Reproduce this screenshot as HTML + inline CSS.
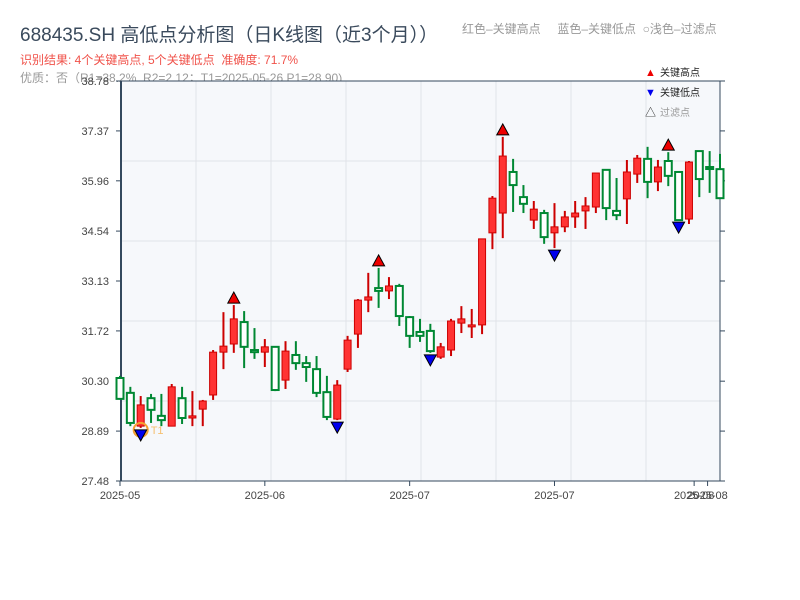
<!DOCTYPE html>
<html><head><meta charset="utf-8"><style>
body{margin:0;background:#fff;width:800px;height:600px;overflow:hidden;font-family:"Liberation Sans","Noto Sans CJK SC",sans-serif}
.t{position:absolute;white-space:nowrap}
</style></head><body>
<div class="t" style="left:20px;top:20px;font-size:19px;color:#3a4a5c">688435.SH 高低点分析图（日K线图（近3个月））</div>
<div class="t" style="left:462px;top:20px;font-size:12px;color:#999">红色–关键高点&nbsp;&nbsp;&nbsp;&nbsp;&nbsp;蓝色–关键低点&nbsp;&nbsp;○浅色–过滤点</div>
<div class="t" style="left:20px;top:51px;font-size:12px;color:#f0524a">识别结果: 4个关键高点, 5个关键低点&nbsp;&nbsp;准确度: 71.7%</div>
<div class="t" style="left:20px;top:69px;font-size:12px;color:#999">优质：否（R1=38.2%, R2=2.12；T1=2025-05-26 P1=28.90)</div>
<svg id="chart" width="800" height="600" style="position:absolute;left:0;top:0;font-family:'Liberation Sans','Noto Sans CJK SC',sans-serif"></svg>
<script>
const opens=[30.39,29.97,29.03,29.82,29.32,29.03,29.82,29.26,29.51,29.91,31.12,31.35,31.97,31.18,31.12,31.27,30.33,31.04,30.81,30.64,29.99,29.23,30.64,31.63,32.59,32.93,32.85,32.99,32.11,31.69,31.72,30.98,31.18,31.94,31.86,31.89,34.49,35.05,36.21,35.50,34.85,35.05,34.49,34.66,34.94,35.11,35.22,36.27,35.11,35.45,36.15,36.58,35.93,36.52,36.21,34.88,36.80,36.35,36.29];
const closes=[29.80,29.12,29.63,29.49,29.20,30.14,29.26,29.32,29.74,31.12,31.29,32.06,31.27,31.12,31.27,30.05,31.15,30.81,30.70,29.97,29.29,30.19,31.46,32.59,32.68,32.85,32.99,32.14,31.58,31.58,31.15,31.27,32.00,32.06,31.89,34.32,35.47,36.66,35.84,35.31,35.16,34.37,34.66,34.94,35.05,35.25,36.18,35.19,34.99,36.21,36.60,35.93,36.35,36.10,34.85,36.49,36.01,36.32,35.47];
const highs=[30.45,30.14,29.88,29.94,29.94,30.22,30.14,30.02,29.77,31.18,32.25,32.45,32.28,31.80,31.49,31.27,31.43,31.43,31.01,31.01,30.45,30.33,31.58,32.62,33.36,33.50,33.24,33.05,32.14,32.06,31.92,31.38,32.06,32.42,32.34,34.32,35.53,37.20,36.58,35.84,35.39,35.14,35.33,35.11,35.39,35.50,36.18,36.29,36.04,36.55,36.69,36.92,36.55,36.77,36.21,36.52,36.80,36.80,36.72];
const lows=[29.78,29.03,28.98,29.12,29.03,29.03,29.09,29.03,29.03,29.77,30.64,31.10,30.67,30.93,30.70,30.02,30.08,30.62,30.28,29.85,29.20,29.20,30.56,31.24,32.25,32.37,32.62,31.86,31.24,31.41,31.10,30.93,31.01,31.66,31.52,31.63,34.03,34.34,35.08,35.05,34.60,34.18,34.06,34.51,34.63,34.60,35.05,34.85,34.85,34.74,35.90,35.47,35.67,35.81,34.85,34.74,35.50,35.62,35.47];
const keyHighs=[11,25,37,53];
const keyLows=[2,21,30,42,54];
const yTicks=[27.48,28.89,30.30,31.72,33.13,34.54,35.96,37.37,38.78];
const xLabels=["2025-05","2025-06","2025-07","2025-07","2025-08","2025-08"];
const xLabelIdx=[0,14,28,42,55.5,56.8];

const svg=document.getElementById('chart');const NS='http://www.w3.org/2000/svg';
const L=121,R=720,T=81,B=481,yMin=27.48,yMax=38.78;
const y=v=>B-(v-yMin)/(yMax-yMin)*(B-T);
const x=i=>120+i*(600/58);
function mk(tag,a,p){const e=document.createElementNS(NS,tag);for(const k in a)e.setAttribute(k,a[k]);(p||svg).appendChild(e);return e;}
const bg=mk('rect',{x:L,y:T,width:R-L,height:B-T,fill:'#f6f8fb'});


for(let k=1;k<8;k++)mk('line',{x1:L+k*75,x2:L+k*75,y1:T,y2:B,stroke:'#e0e3e8','stroke-width':1});
for(let k=1;k<5;k++)mk('line',{x1:L,x2:R,y1:T+k*80,y2:T+k*80,stroke:'#e0e3e8','stroke-width':1});
mk('rect',{x:L,y:T,width:R-L,height:B-T,fill:'none',stroke:'#34495e','stroke-width':1});
mk('line',{x1:L,x2:L,y1:T,y2:B,stroke:'#34495e','stroke-width':2});
yTicks.forEach(v=>{
  mk('line',{x1:L-5,x2:L,y1:y(v),y2:y(v),stroke:'#34495e'});
  mk('line',{x1:R,x2:R+5,y1:y(v),y2:y(v),stroke:'#34495e'});
  const t=mk('text',{x:L-12,y:y(v)+4,'text-anchor':'end','font-size':11,fill:'#444'});t.textContent=v.toFixed(2);
  
  
});
xLabels.forEach((s,k)=>{
  mk('line',{x1:x(xLabelIdx[k]),x2:x(xLabelIdx[k]),y1:B,y2:B+5,stroke:'#34495e'});
  const t=mk('text',{x:x(xLabelIdx[k]),y:B+18,'text-anchor':'middle','font-size':11,fill:'#444'});t.textContent=s;
  
  
});
opens.forEach((o,i)=>{
  const c=closes[i],up=c>=o,col=up?'#cc0000':'#008833';
  const g=mk('g',{});
  
  
  mk('line',{x1:x(i),x2:x(i),y1:y(highs[i]),y2:y(lows[i]),stroke:col,'stroke-width':2},g);
  const top=y(Math.max(o,c)),h=Math.max(2,Math.abs(y(o)-y(c)));
  mk('rect',{x:x(i)-3.5,y:top,width:7,height:h,fill:up?'#ff3333':'#ffffff',stroke:col,'stroke-width':up?1:2},g);
});
keyLows.forEach((i,k)=>{
  if(k===0){const c=mk('circle',{cx:x(i),cy:y(lows[i])+2,r:7,fill:'none',stroke:'#f5a030','stroke-width':2});
    const t=mk('text',{x:x(i)+10,y:y(lows[i])+6,'font-size':11,fill:'#f5c070'});t.textContent='T1';}
  const yy=y(lows[i])+2;
  const p=mk('path',{d:`M${x(i)-6},${yy}L${x(i)+6},${yy}L${x(i)},${yy+11}Z`,fill:'#0000ee',stroke:'#000','stroke-width':1});
  
  
});
keyHighs.forEach(i=>{
  const yy=y(highs[i])-2;
  const p=mk('path',{d:`M${x(i)-6},${yy}L${x(i)+6},${yy}L${x(i)},${yy-11}Z`,fill:'#ee0000',stroke:'#000','stroke-width':1});
  
  
});
[['▲','关键高点','#ee0000','#222',72],['▼','关键低点','#0000ee','#222',92],['△','过滤点','#222','#999',112]].forEach(a=>{
  const g=mk('g',{});
  
  
  const m=mk('text',{x:645,y:a[4]+4,'font-size':11,fill:a[2]},g);m.textContent=a[0];
  const t=mk('text',{x:660,y:a[4]+4,'font-size':10,fill:a[3]},g);t.textContent=a[1];
});
</script>
</body></html>
